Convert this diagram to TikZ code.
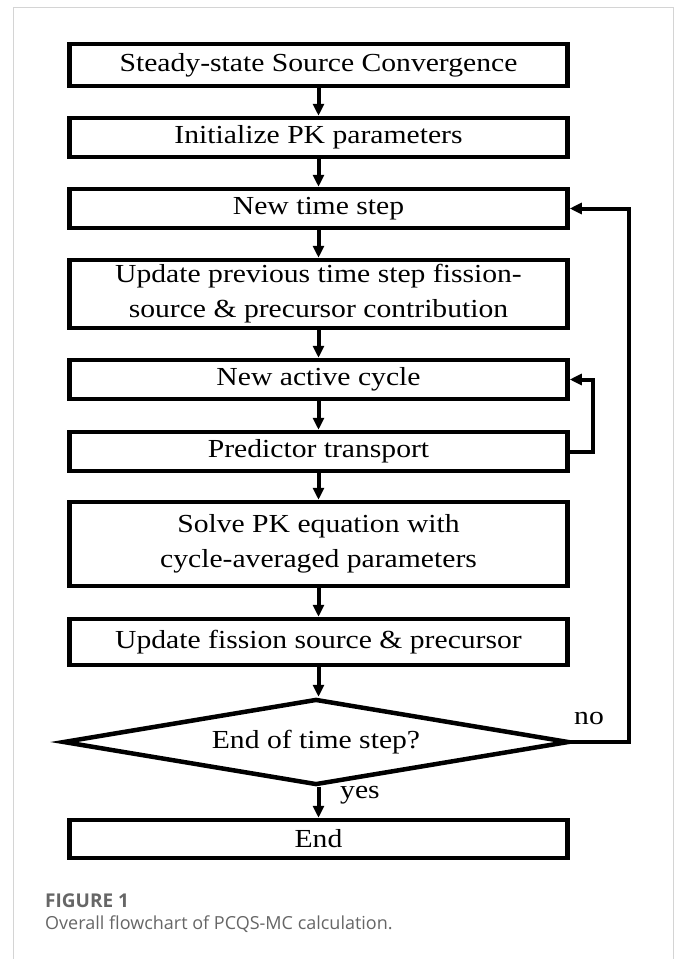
\documentclass[tikz,border=0pt]{standalone}
\usepackage{fontspec}
\usetikzlibrary{arrows.meta,shapes.geometric}
\newfontfamily\boxfont[FakeStretch=1.14]{Liberation Serif}
\newfontfamily\capfont{Open Sans}
\definecolor{framegray}{HTML}{D4D4D4}
\definecolor{capgray}{HTML}{666666}

\begin{document}
\begin{tikzpicture}[x=1pt,y=1pt,yscale=-1,
    stepbox/.style={draw=black,line width=4.5pt,fill=white,minimum width=498pt,
      inner sep=0pt,align=center,font=\boxfont\fontsize{26}{35}\selectfont},
    flow/.style={line width=4pt,-{Triangle[length=12pt,width=11pt]}},
    label/.style={font=\boxfont\fontsize{26}{35}\selectfont}]

    \useasboundingbox (0,0) rectangle (680,959);
    \draw[framegray,line width=1pt] (13.5,975) -- (13.5,7.5) -- (673.5,7.5) -- (673.5,975);

    % boxes
    \node[stepbox,minimum height=42pt] (b1) at (318.5,65) {Steady-state Source Convergence};
    \node[stepbox,minimum height=39pt] (b2) at (318.5,137.5) {Initialize PK parameters};
    \node[stepbox,minimum height=39pt] (b3) at (318.5,208.5) {New time step};
    \node[stepbox,minimum height=68pt] (b4) at (318.5,294) {Update previous time step fission-\\source \& precursor contribution};
    \node[stepbox,minimum height=39pt] (b5) at (318.5,379.5) {New active cycle};
    \node[stepbox,minimum height=39pt] (b6) at (318.5,451.5) {Predictor transport};
    \node[stepbox,minimum height=84pt] (b7) at (318.5,544) {Solve PK equation with\\cycle-averaged parameters};
    \node[stepbox,minimum height=46pt] (b8) at (318.5,642) {Update fission source \& precursor};
    \node[stepbox,shape=diamond,aspect=5.6,minimum width=506pt,minimum height=86pt] (dec) at (316,742) {End of time step?};
    \node[stepbox,minimum height=38pt] (b9) at (318.5,839) {End};

    % arrows
    \draw[flow] (b1) -- (b2);
    \draw[flow] (b2) -- (b3);
    \draw[flow] (b3) -- (b4);
    \draw[flow] (b4) -- (b5);
    \draw[flow] (b5) -- (b6);
    \draw[flow] (b6) -- (b7);
    \draw[flow] (b7) -- (b8);
    \draw[flow] (b8.south) -- (b8.south |- dec.north);
    \draw[flow] (b9.north |- dec.south) -- (b9.north);
    \draw[flow] (b6.east) -- ++(23,0) |- (b5.east);
    \draw[flow] (dec.east) -- ++(58,0) |- (b3.east);

    \node[label] (yes) at (360,795) {yes};
    \node[label] (no) at (589,718) {no};

    % caption
    \node[anchor=base west,inner sep=0pt,text=capgray,font=\capfont\bfseries\fontsize{19}{22}\selectfont] (fig) at (45,907) {FIGURE 1};
    \node[anchor=base west,inner sep=0pt,text=capgray,font=\capfont\fontsize{18}{22}\selectfont] (cap) at (45,929) {Overall flowchart of PCQS-MC calculation.};
\end{tikzpicture}
\end{document}
